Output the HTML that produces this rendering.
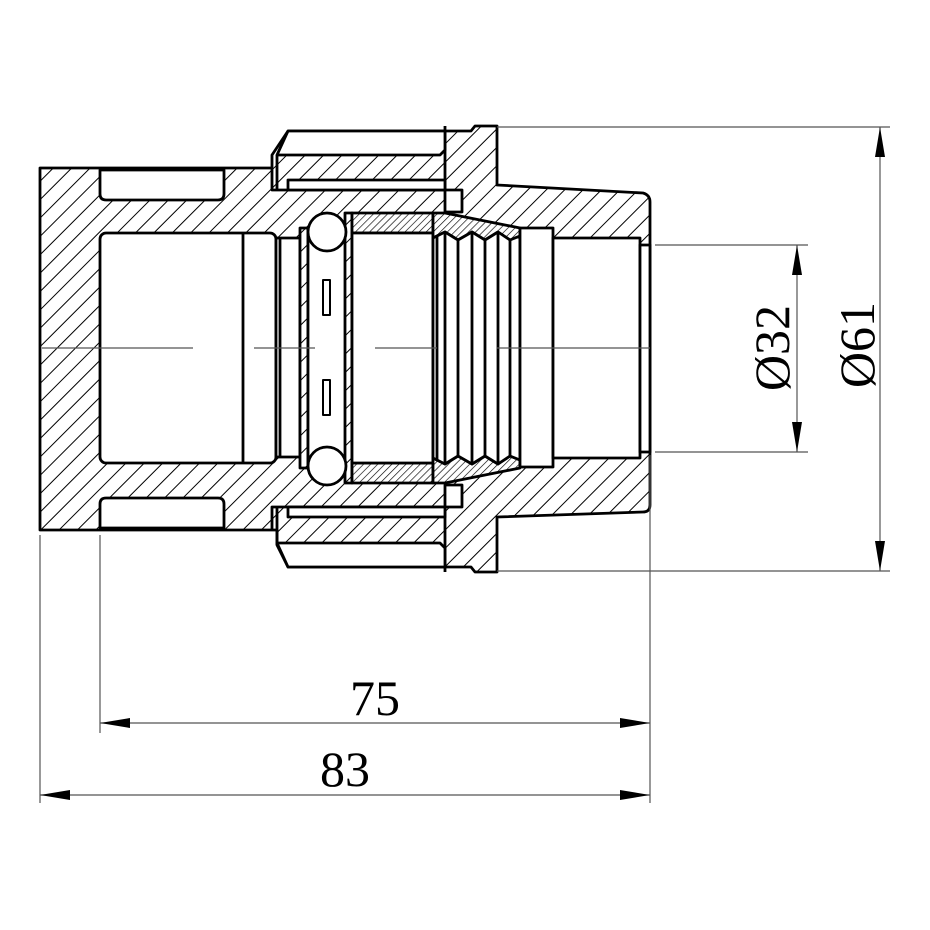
<!DOCTYPE html>
<html><head><meta charset="utf-8"><style>
html,body{margin:0;padding:0;background:#fff;}
svg{display:block;}
text{font-family:"Liberation Serif",serif;font-size:50px;fill:#000;}
</style></head><body>
<svg width="930" height="930" viewBox="0 0 930 930" xmlns="http://www.w3.org/2000/svg">
<defs>
<pattern id="h" patternUnits="userSpaceOnUse" width="13" height="13" patternTransform="rotate(45)">
<rect width="13" height="13" fill="#fff"/><line x1="0" y1="0" x2="0" y2="13" stroke="#000" stroke-width="2"/>
</pattern>
<pattern id="d" patternUnits="userSpaceOnUse" width="5" height="5" patternTransform="rotate(45)">
<rect width="5" height="5" fill="#fff"/><line x1="0" y1="0" x2="0" y2="5" stroke="#000" stroke-width="1.3"/>
</pattern>
</defs>
<g stroke="#000" stroke-width="2.8" stroke-linejoin="round">
<path fill="url(#h)" d="M40,168 H272 V155 L288,131 H471 L475,126 H497 V185 L643,193 Q650,195 650,202 V505 Q650,512 643,512 L497,517 V572 H475 L471,567 H288 L277,545 V530 H40 Z"/>
<path fill="none" d="M272,168 V190 H445 M272,530 V507 H445 M277,155 V190 M277,507 V545 M445,126 V190 M445,507 V572"/>
<path fill="#fff" d="M288,131 H445 V150 L440,155 H277 Z"/>
<path fill="#fff" d="M288,567 H445 V548 L440,543 H277 Z"/>
<rect x="288" y="180" width="157" height="10" fill="#fff"/>
<rect x="288" y="507" width="157" height="10" fill="#fff"/>
<rect x="445" y="190" width="17" height="22" fill="#fff"/>
<rect x="445" y="485" width="17" height="22" fill="#fff"/>
<path fill="#fff" d="M100,170 H224 V194 Q224,200 218,200 H106 Q100,200 100,194 Z"/>
<path fill="#fff" d="M100,528 H224 V504 Q224,498 218,498 H106 Q100,498 100,504 Z"/>
<rect x="100" y="233" width="176" height="230" rx="6" fill="#fff"/>
<line x1="243" y1="233" x2="243" y2="463"/>
<rect x="276" y="238" width="24" height="219" fill="#fff"/>
<line x1="280" y1="238" x2="280" y2="457"/>
<rect x="300" y="228" width="8" height="240" fill="url(#h)"/>
<rect x="308" y="228" width="40" height="240" fill="#fff" stroke="none"/>
<line x1="308" y1="228" x2="308" y2="468"/>
<rect x="345" y="213" width="7" height="270" fill="url(#h)"/>
<rect x="323" y="280" width="7" height="35" fill="#fff" stroke-width="2"/>
<rect x="323" y="380" width="7" height="35" fill="#fff" stroke-width="2"/>
<circle cx="327" cy="232" r="19" fill="#fff"/>
<circle cx="327" cy="466" r="19" fill="#fff"/>
<rect x="352" y="213" width="81" height="20" fill="url(#d)"/>
<rect x="352" y="463" width="81" height="20" fill="url(#d)"/>
<rect x="352" y="233" width="81" height="230" fill="#fff"/>
<path fill="url(#d)" d="M433,213 L445,213 L520,228 V236 L510,240 L498,232 L485,240 L472,232 L458,240 L445,232 L433,238 Z"/>
<path fill="url(#d)" d="M433,483 L445,483 L520,468 V460 L510,456 L498,464 L485,456 L472,464 L458,456 L445,464 L433,458 Z"/>
<path fill="#fff" d="M433,238 L445,232 L458,240 L472,232 L485,240 L498,232 L510,240 L520,236 V460 L510,456 L498,464 L485,456 L472,464 L458,456 L445,464 L433,458 Z"/>
<path fill="none" d="M437,235 V461 M445,232 V464 M458,240 V456 M472,232 V464 M485,240 V456 M498,232 V464 M510,240 V456"/>
<rect x="520" y="228" width="33" height="239" fill="#fff"/>
<rect x="553" y="238" width="87" height="220" fill="#fff"/>
<rect x="640" y="245" width="10" height="207" fill="#fff"/>
</g>
<g stroke="#555" stroke-width="1.2">
<line x1="42" y1="348" x2="193" y2="348"/>
<line x1="254" y1="348" x2="315" y2="348"/>
<line x1="375" y1="348" x2="437" y2="348"/>
<line x1="497" y1="348" x2="650" y2="348"/>
</g>
<g stroke="#555" stroke-width="1.2" fill="none">
<line x1="497" y1="127" x2="890" y2="127"/>
<line x1="497" y1="571" x2="890" y2="571"/>
<line x1="880" y1="127" x2="880" y2="571"/>
<line x1="655" y1="245" x2="808" y2="245"/>
<line x1="655" y1="452" x2="808" y2="452"/>
<line x1="797" y1="245" x2="797" y2="452"/>
<line x1="40" y1="535" x2="40" y2="803"/>
<line x1="100" y1="535" x2="100" y2="733"/>
<line x1="650" y1="455" x2="650" y2="803"/>
<line x1="100" y1="723" x2="650" y2="723"/>
<line x1="40" y1="795" x2="650" y2="795"/>
</g>
<g fill="#000">
<path d="M880,127 L875,157 L885,157 Z"/><path d="M880,571 L875,541 L885,541 Z"/>
<path d="M797,245 L792,275 L802,275 Z"/><path d="M797,452 L792,422 L802,422 Z"/>
<path d="M100,723 L130,718 L130,728 Z"/><path d="M650,723 L620,718 L620,728 Z"/>
<path d="M40,795 L70,790 L70,800 Z"/><path d="M650,795 L620,790 L620,800 Z"/>
</g>
<text x="375" y="715" text-anchor="middle">75</text>
<text x="345" y="786" text-anchor="middle">83</text>
<text transform="translate(789,348) rotate(-90)" text-anchor="middle">Ø32</text>
<text transform="translate(874,345) rotate(-90)" text-anchor="middle">Ø61</text>
</svg>
</body></html>
